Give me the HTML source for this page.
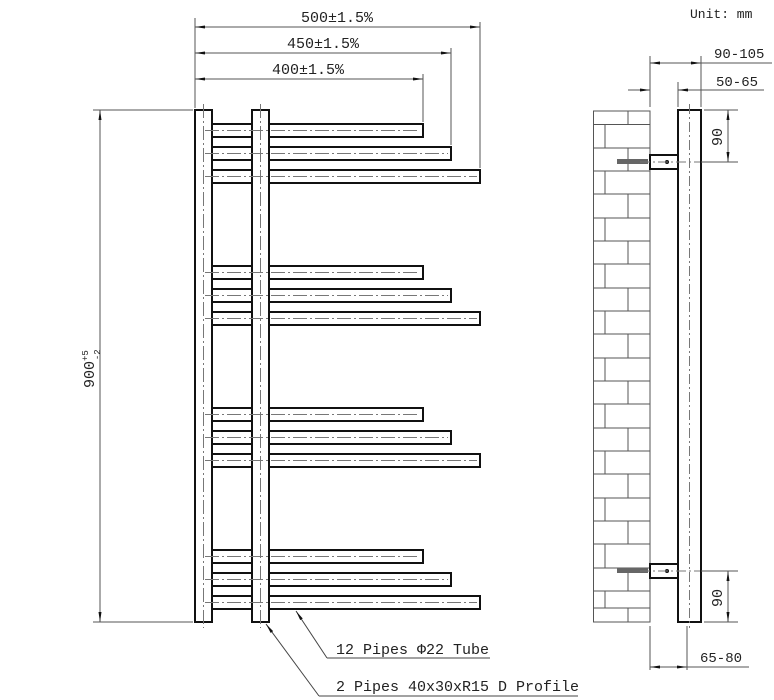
<!DOCTYPE html>
<html><head><meta charset="utf-8"><style>
html,body{margin:0;padding:0;background:#fff}
svg{display:block}
text{font-family:"Liberation Mono","DejaVu Sans Mono",monospace;fill:#222}
</style></head><body>
<svg width="774" height="700" viewBox="0 0 774 700" xmlns="http://www.w3.org/2000/svg">
<defs>
<marker id="a" viewBox="0 0 10 4" refX="10" refY="2" markerWidth="10" markerHeight="4" orient="auto-start-reverse" markerUnits="userSpaceOnUse"><path d="M0,0.5 L10,2 L0,3.5z" fill="#111"/></marker>
</defs>
<g stroke="#555" stroke-width="1" fill="none">
<line x1="195" y1="18" x2="195" y2="108"/>
<line x1="480" y1="22" x2="480" y2="168"/>
<line x1="451" y1="48" x2="451" y2="145"/>
<line x1="423" y1="74" x2="423" y2="122"/>
<line x1="195" y1="27" x2="480" y2="27" marker-start="url(#a)" marker-end="url(#a)"/>
<line x1="195" y1="53" x2="451" y2="53" marker-start="url(#a)" marker-end="url(#a)"/>
<line x1="195" y1="79" x2="423" y2="79" marker-start="url(#a)" marker-end="url(#a)"/>
<line x1="93" y1="110" x2="193" y2="110"/>
<line x1="93" y1="622" x2="193" y2="622"/>
<line x1="100" y1="110" x2="100" y2="622" marker-start="url(#a)" marker-end="url(#a)"/>
</g>
<text x="337" y="22" font-size="15" text-anchor="middle">500±1.5%</text>
<text x="323" y="48" font-size="15" text-anchor="middle">450±1.5%</text>
<text x="308" y="74" font-size="15" text-anchor="middle">400±1.5%</text>
<text transform="translate(94,388) rotate(-90)" font-size="15" font-family="Liberation Sans">900<tspan font-size="9" dy="-6">+5</tspan><tspan font-size="9" dx="-10" dy="12">-2</tspan></text>

<g stroke="#111" stroke-width="2" fill="#fff">
<rect x="212" y="124" width="211" height="13"/><rect x="212" y="147" width="239" height="13"/><rect x="212" y="170" width="268" height="13"/>
<rect x="212" y="266" width="211" height="13"/><rect x="212" y="289" width="239" height="13"/><rect x="212" y="312" width="268" height="13"/>
<rect x="212" y="408" width="211" height="13"/><rect x="212" y="431" width="239" height="13"/><rect x="212" y="454" width="268" height="13"/>
<rect x="212" y="550" width="211" height="13"/><rect x="212" y="573" width="239" height="13"/><rect x="212" y="596" width="268" height="13"/>
<rect x="195" y="110" width="17" height="512"/>
<rect x="252" y="110" width="17" height="512"/>
</g>
<g stroke="#777" stroke-width="1" stroke-dasharray="14,3,2,3" fill="none">
<line x1="203.5" y1="104" x2="203.5" y2="628"/><line x1="260.5" y1="104" x2="260.5" y2="628"/>
<line x1="205" y1="130.5" x2="420" y2="130.5"/><line x1="205" y1="153.5" x2="448" y2="153.5"/><line x1="205" y1="176.5" x2="477" y2="176.5"/>
<line x1="205" y1="272.5" x2="420" y2="272.5"/><line x1="205" y1="295.5" x2="448" y2="295.5"/><line x1="205" y1="318.5" x2="477" y2="318.5"/>
<line x1="205" y1="414.5" x2="420" y2="414.5"/><line x1="205" y1="437.5" x2="448" y2="437.5"/><line x1="205" y1="460.5" x2="477" y2="460.5"/>
<line x1="205" y1="556.5" x2="420" y2="556.5"/><line x1="205" y1="579.5" x2="448" y2="579.5"/><line x1="205" y1="602.5" x2="477" y2="602.5"/>
</g>
<g stroke="#444" stroke-width="1" fill="none">
<line x1="296" y1="611" x2="327" y2="658" marker-start="url(#a)"/><line x1="327" y1="658" x2="490" y2="658"/>
<line x1="266" y1="624" x2="319" y2="696" marker-start="url(#a)"/><line x1="319" y1="696" x2="578" y2="696"/>
</g>
<text x="336" y="654" font-size="15">12 Pipes Φ22 Tube</text>
<text x="336" y="691" font-size="15">2 Pipes 40x30xR15 D Profile</text>

<text x="690" y="18" font-size="13">Unit: mm</text>
<g stroke="#555" stroke-width="1" fill="none">
<rect x="593.5" y="111" width="56.5" height="511"/>
<path d="M594 124.5H650M628 111V124"/>
<path d="M594 148H650M594 171H650M594 194H650M594 218H650M594 241H650M594 264H650M594 288H650M594 311H650M594 334H650M594 358H650M594 381H650M594 404H650M594 428H650M594 451H650M594 474H650M594 498H650M594 521H650M594 544H650M594 568H650M594 591H650M594 608H650"/>
<path d="M605 124V148M628 148V171M605 171V194M628 194V218M605 218V241M628 241V264M605 264V288M628 288V311M605 311V334M628 334V358M605 358V381M628 381V404M605 404V428M628 428V451M605 451V474M628 474V498M605 498V521M628 521V544M605 544V568M628 568V591M605 591V608M628 608V622"/>
</g>
<g stroke="#111" stroke-width="2" fill="#fff">
<rect x="650" y="155" width="28" height="14"/>
<rect x="650" y="564" width="28" height="14"/>
<rect x="678" y="110" width="23" height="512"/>
</g>
<g fill="#666"><rect x="617" y="159" width="31" height="5"/><rect x="617" y="568" width="31" height="5"/></g>
<g fill="#111"><circle cx="667" cy="162" r="2"/><circle cx="667" cy="571" r="2"/></g>
<g stroke="#777" stroke-dasharray="10,3,2,3"><line x1="689.5" y1="104" x2="689.5" y2="628"/><line x1="640" y1="162" x2="700" y2="162"/><line x1="640" y1="571" x2="700" y2="571"/></g>
<g stroke="#555" stroke-width="1" fill="none">
<line x1="650" y1="56" x2="650" y2="107"/>
<line x1="701" y1="56" x2="701" y2="107"/>
<line x1="678" y1="82" x2="678" y2="107"/>
<line x1="650" y1="63" x2="701" y2="63" marker-start="url(#a)" marker-end="url(#a)"/>
<line x1="701" y1="63" x2="772" y2="63"/>
<line x1="628" y1="90" x2="650" y2="90" marker-end="url(#a)"/>
<line x1="678" y1="90" x2="764" y2="90" marker-start="url(#a)"/>
<line x1="704" y1="110" x2="738" y2="110"/>
<line x1="701" y1="162" x2="738" y2="162"/>
<line x1="728" y1="110" x2="728" y2="162" marker-start="url(#a)" marker-end="url(#a)"/>
<line x1="701" y1="571" x2="738" y2="571"/>
<line x1="704" y1="622" x2="738" y2="622"/>
<line x1="728" y1="571" x2="728" y2="622" marker-start="url(#a)" marker-end="url(#a)"/>
<line x1="650" y1="626" x2="650" y2="670"/>
<line x1="687" y1="626" x2="687" y2="670"/>
<line x1="650" y1="667" x2="687" y2="667" marker-start="url(#a)" marker-end="url(#a)"/>
<line x1="687" y1="667" x2="749" y2="667"/>
</g>
<text x="714" y="58" font-size="14">90-105</text>
<text x="716" y="86" font-size="14">50-65</text>
<text transform="translate(722,146) rotate(-90)" font-size="15">90</text>
<text transform="translate(722,607) rotate(-90)" font-size="15">90</text>
<text x="700" y="662" font-size="14">65-80</text>
</svg>
</body></html>
